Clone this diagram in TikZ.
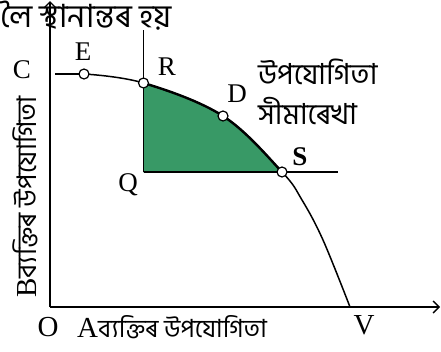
\documentclass[tikz,border=0pt]{standalone}
\usepackage{fontspec}
\setmainfont{Liberation Serif}
\newfontfamily\bn[Script=Bengali]{Hind Siliguri}
\usetikzlibrary{arrows.meta}
\definecolor{areagreen}{RGB}{56,153,102}
\begin{document}
\begin{tikzpicture}[x=1pt,y=-1pt,
 axis/.style={line width=1.4pt,-{Straight Barb[length=6pt,width=12pt]}},
 pt/.style={circle,draw,fill=white,line width=1.2pt,minimum size=10pt,inner sep=0pt},
 lbl/.style={font=\fontsize{27}{29}\selectfont,inner sep=1pt},
 biglbl/.style={font=\fontsize{29}{31}\selectfont},
 boldlbl/.style={font=\bfseries\fontsize{27}{29}\selectfont},
 bl/.style={font=\bn\fontsize{29}{31}\selectfont},
 bltop/.style={font=\bn\fontsize{32}{34}\selectfont}]
\useasboundingbox (0,0) rectangle (441,351);
\coordinate (O) at (50,307);
\coordinate (Ytop) at (50,1);
\coordinate (Xend) at (440,307);
\coordinate (Cs) at (55,74);
\coordinate (E) at (84,74);
\coordinate (R) at (143.5,83);
\coordinate (D) at (223,116);
\coordinate (S) at (282,172);
\coordinate (P1) at (302,200);
\coordinate (P2) at (323,240);
\coordinate (V) at (350,307);
\coordinate (Q) at (143.5,172);
\coordinate (Rtop) at (143.5,30);
\coordinate (Send) at (338,172);
% green area
\begin{scope}
\clip (Q) rectangle (441,0);
\fill[areagreen] plot[smooth,tension=0.6] coordinates {(E)(R)(D)(S)(P1)(P2)(V)} -- (O) -- cycle;
\draw[line width=2.4pt] plot[smooth,tension=0.6] coordinates {(E)(R)(D)(S)(P1)(P2)(V)};
\end{scope}
% curve
\draw[line width=1.5pt] plot[smooth,tension=0.6] coordinates {(E)(R)(D)(S)(P1)(P2)(V)};
% lines
\draw[line width=1.4pt] (Cs) -- (E);
\draw[line width=1.4pt] (Rtop) -- (Q);
\draw[line width=2.4pt] (Q) -- (S);
\draw[line width=1.4pt] (S) -- (Send);
% axes
\draw[axis] (O) -- (Ytop);
\draw[axis] (O) -- (Xend);
% points
\node[pt] (e) at (E) {};
\node[pt] (r) at (R) {};
\node[pt] (d) at (D) {};
\node[pt] (s) at (S) {};
% labels
\node[lbl] (Cl) at (22,70) {C};
\node[lbl] (El) at (83,52) {E};
\node[lbl] (Rl) at (167,67) {R};
\node[lbl] (Dl) at (237,94) {D};
\node[boldlbl] (Sl) at (300,157) {S};
\node[lbl] (Ql) at (128,185) {Q};
\node[biglbl] (Ol) at (48,327) {O};
\node[biglbl] (Vl) at (364,325) {V};
\node[anchor=base west,inner sep=0pt] (Xl) at (77,337) {\fontsize{29}{31}\selectfont A{\bn\fontsize{25}{27}\selectfont ব্যক্তিৰ উপযোগিতা}};
\node[rotate=90,anchor=base west,inner sep=0pt] (Yl) at (36,298) {\fontsize{29}{31}\selectfont B{\bn\fontsize{27}{29}\selectfont ব্যক্তিৰ উপযোগিতা}};
\node[bl,anchor=base west,inner sep=0pt] (U1) at (258,84) {উপযোগিতা};
\node[bl,anchor=base west,inner sep=0pt] (U2) at (258,124) {সীমাৰেখা};
\node[bltop,anchor=base west,inner sep=0pt] (T) at (0,27) {লৈ স্থানান্তৰ হয়};
\end{tikzpicture}
\end{document}
